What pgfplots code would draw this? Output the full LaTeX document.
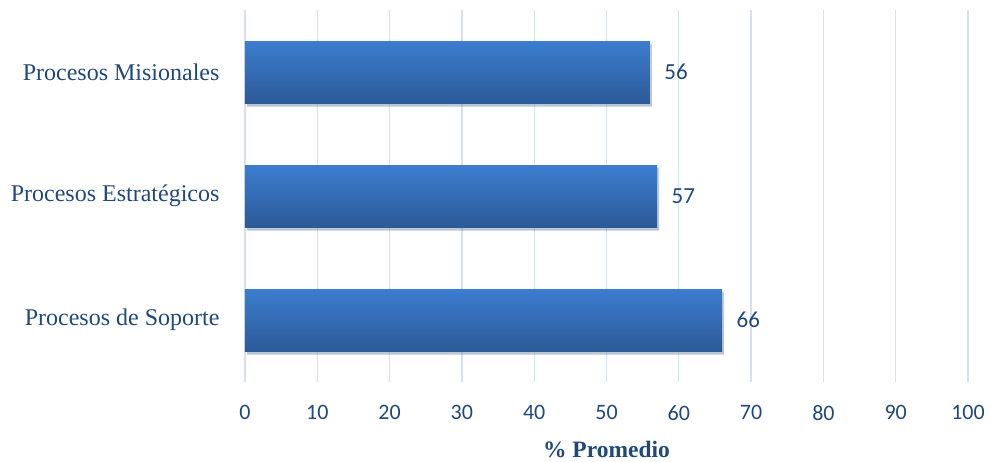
\documentclass[border=0pt]{standalone}
\usepackage{pgfplots}
\pgfplotsset{compat=1.18}
\usepackage{fontspec}
\setmainfont{Liberation Serif}
\newfontfamily\calibri{Carlito}
\usetikzlibrary{shadows}
\definecolor{txtblue}{HTML}{1F497D}
\definecolor{gridc}{HTML}{D6E0EE}
\definecolor{bartop}{HTML}{3C7DD0}
\definecolor{barbot}{HTML}{2C5A98}
\begin{document}
\begin{tikzpicture}
\begin{axis}[
  scale only axis,
  width=723pt, height=372pt,
  xmin=0, xmax=100,
  ymin=-0.5, ymax=2.5,
  xtick={0,10,...,100},
  ytick={0,1,2},
  yticklabels={Procesos de Soporte, Procesos Estratégicos, Procesos Misionales},
  axis line style={draw=none},
  major tick length=0pt,
  xmajorgrids,
  grid style={gridc, line width=1.3pt},
  xticklabel style={font=\calibri\fontsize{22}{24}\selectfont, text=txtblue, yshift=-20pt},
  yticklabel style={font=\fontsize{24}{28}\selectfont, text=txtblue, xshift=-22pt},
  /pgf/number format/assume math mode=true,
  xlabel={\textbf{\% Promedio}},
  xlabel style={font=\fontsize{23.5}{26}\selectfont, text=txtblue, yshift=-14pt},
  xbar,
  bar width=62pt,
  bar shift=0pt,
  nodes near coords,
  nodes near coords style={font=\calibri\fontsize{23}{26}\selectfont, text=txtblue, anchor=west, xshift=11pt},
  clip=false,
]
\addplot[draw=none, top color=bartop, bottom color=barbot,
  drop shadow={shadow xshift=2pt, shadow yshift=-3pt, opacity=0.22}]
  coordinates {(66,0)};
\addplot[draw=none, top color=bartop, bottom color=barbot,
  drop shadow={shadow xshift=2pt, shadow yshift=-3pt, opacity=0.22}]
  coordinates {(57,1)};
\addplot[draw=none, top color=bartop, bottom color=barbot,
  drop shadow={shadow xshift=2pt, shadow yshift=-3pt, opacity=0.22}]
  coordinates {(56,2)};
\end{axis}
\pgfresetboundingbox
\path (-245pt,-79pt) rectangle ++(990pt,461pt);
\end{tikzpicture}
\end{document}
